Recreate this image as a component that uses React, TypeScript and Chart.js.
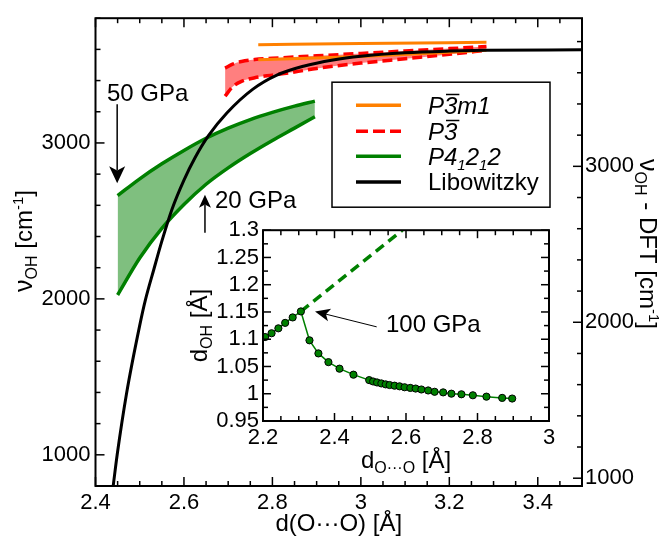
import React, { useEffect, useRef } from 'react';
import { Chart, registerables } from 'chart.js';

Chart.register(...registerables);

const FONT = "'Liberation Sans', Arial, Helvetica, sans-serif";

// ---------------- main panel data ----------------
const blackX = [2.44, 2.449, 2.47, 2.5, 2.513, 2.532, 2.55, 2.573, 2.6, 2.625, 2.655, 2.697, 2.756, 2.81, 2.87, 2.937, 3.0, 3.1, 3.2, 3.28, 3.5];
const blackY = [800, 1000, 1390, 1830, 1995, 2190, 2370, 2575, 2762, 2905, 3045, 3192, 3345, 3435, 3492, 3532, 3556, 3578, 3589, 3594, 3597];

const greenX = [2.45, 2.5, 2.55, 2.6, 2.65, 2.7, 2.75, 2.8, 2.85, 2.896];
const greenUpperY = [2662, 2770, 2866, 2952, 3030, 3095, 3150, 3196, 3236, 3268];
const greenLowerY = [2025, 2262, 2452, 2605, 2735, 2840, 2932, 3016, 3095, 3168];

const redX = [2.693, 2.71, 2.73, 2.76, 2.8, 2.85, 2.9, 3.0, 3.1, 3.2, 3.284];
const redUpperY = [3480, 3505, 3522, 3535, 3543, 3551, 3559, 3574, 3590, 3605, 3618];
const redLowerY = [3300, 3360, 3395, 3418, 3435, 3455, 3478, 3512, 3540, 3568, 3594];

const orangeX = [2.768, 3.0, 3.284];
const orangeUpperY = [3630, 3637, 3645];
const orangeLowerY = [3533, 3555, 3594];

const xMajorTicks = [2.4, 2.6, 2.8, 3.0, 3.2, 3.4];
const xTickLabels = ['2.4', '2.6', '2.8', '3', '3.2', '3.4'];
const yMajorTicks = [1000, 2000, 3000];
const yTickLabels = ['1000', '2000', '3000'];
const y2MajorTicks = [1000, 2000, 3000];
const y2TickLabels = ['1000', '2000', '3000'];
const DFT_SHIFT = 150;

// ---------------- inset data ----------------
const insetX = [2.206, 2.224, 2.243, 2.262, 2.283, 2.306, 2.33, 2.355, 2.383, 2.414, 2.453, 2.497, 2.508, 2.519, 2.531, 2.543, 2.554, 2.568, 2.582, 2.596, 2.612, 2.627, 2.643, 2.662, 2.68, 2.704, 2.727, 2.755, 2.787, 2.825, 2.869, 2.897];
const insetY = [1.104, 1.111, 1.12, 1.13, 1.14, 1.151, 1.098, 1.074, 1.058, 1.046, 1.035, 1.025, 1.0225, 1.0207, 1.0189, 1.0172, 1.016, 1.0148, 1.0136, 1.0119, 1.0107, 1.0095, 1.0078, 1.006, 1.0036, 1.0025, 1.0001, 0.999, 0.9972, 0.9947, 0.9924, 0.9912];
const insetDashX = [2.306, 2.59];
const insetDashY = [1.151, 1.3];

const insetXTicks = [2.2, 2.4, 2.6, 2.8, 3.0];
const insetXLabels = ['2.2', '2.4', '2.6', '2.8', '3'];
const insetYTicks = [0.95, 1.0, 1.05, 1.1, 1.15, 1.2, 1.25, 1.3];
const insetYLabels = ['0.95', '1', '1.05', '1.1', '1.15', '1.2', '1.25', '1.3'];

const zip = (xs: number[], ys: number[]) => xs.map((x, i) => ({ x, y: ys[i] }));

const GREEN = '#008000';
const RED = '#ff0000';
const ORANGE = '#ff8000';

type Seg = { t: string; size: number; dy?: number; italic?: boolean; over?: boolean };

function segFont(s: Seg) {
  return `${s.italic ? 'italic ' : ''}${s.size}px ${FONT}`;
}

function drawRich(ctx: CanvasRenderingContext2D, segs: Seg[], x: number, y: number, align: 'left' | 'center') {
  ctx.save();
  ctx.textAlign = 'left';
  ctx.textBaseline = 'alphabetic';
  ctx.fillStyle = '#000';
  let w = 0;
  for (const s of segs) {
    ctx.font = segFont(s);
    w += ctx.measureText(s.t).width;
  }
  let cx = align === 'center' ? x - w / 2 : x;
  for (const s of segs) {
    ctx.font = segFont(s);
    ctx.fillText(s.t, cx, y + (s.dy || 0));
    const sw = ctx.measureText(s.t).width;
    if (s.over) {
      ctx.strokeStyle = '#000';
      ctx.lineWidth = 1.5;
      ctx.beginPath();
      const oy = y - s.size * 0.8;
      ctx.moveTo(cx + 2, oy);
      ctx.lineTo(cx + sw + 2, oy);
      ctx.stroke();
    }
    cx += sw;
  }
  ctx.restore();
}

function drawArrow(ctx: CanvasRenderingContext2D, x1: number, y1: number, x2: number, y2: number, headLen: number, headW: number, lw: number) {
  const ang = Math.atan2(y2 - y1, x2 - x1);
  const c = Math.cos(ang), s = Math.sin(ang);
  const bx = x2 - headLen * c, by = y2 - headLen * s;
  const nx = x2 - headLen * 0.75 * c, ny = y2 - headLen * 0.75 * s;
  const px = -s, py = c;
  ctx.save();
  ctx.strokeStyle = '#000';
  ctx.fillStyle = '#000';
  ctx.lineWidth = lw;
  ctx.beginPath();
  ctx.moveTo(x1, y1);
  ctx.lineTo(nx, ny);
  ctx.stroke();
  ctx.beginPath();
  ctx.moveTo(x2, y2);
  ctx.lineTo(bx + (px * headW) / 2, by + (py * headW) / 2);
  ctx.lineTo(nx, ny);
  ctx.lineTo(bx - (px * headW) / 2, by - (py * headW) / 2);
  ctx.closePath();
  ctx.fill();
  ctx.restore();
}

function drawTicks(chart: any, scaleId: string, sides: string[], majors: number[], minorStep: number, majorLen: number, minorLen: number) {
  const sc = chart.scales[scaleId];
  const a = chart.chartArea;
  const ctx = chart.ctx as CanvasRenderingContext2D;
  const start = Math.ceil(sc.min / minorStep - 1e-6);
  const end = Math.floor(sc.max / minorStep + 1e-6);
  ctx.save();
  ctx.strokeStyle = '#000';
  ctx.lineWidth = 1.5;
  for (let i = start; i <= end; i++) {
    const v = i * minorStep;
    const major = majors.some((m) => Math.abs(m - v) < minorStep * 1e-3);
    const L = major ? majorLen : minorLen;
    const p = sc.getPixelForValue(v);
    for (const side of sides) {
      ctx.beginPath();
      if (side === 'bottom') { ctx.moveTo(p, a.bottom); ctx.lineTo(p, a.bottom - L); }
      if (side === 'top') { ctx.moveTo(p, a.top); ctx.lineTo(p, a.top + L); }
      if (side === 'left') { ctx.moveTo(a.left, p); ctx.lineTo(a.left + L, p); }
      if (side === 'right') { ctx.moveTo(a.right, p); ctx.lineTo(a.right - L, p); }
      ctx.stroke();
    }
  }
  ctx.restore();
}

function drawFrame(chart: any) {
  const a = chart.chartArea;
  const ctx = chart.ctx as CanvasRenderingContext2D;
  ctx.save();
  ctx.strokeStyle = '#000';
  ctx.lineWidth = 2;
  ctx.strokeRect(a.left, a.top, a.right - a.left, a.bottom - a.top);
  ctx.restore();
}

const tickFont = { family: FONT, size: 22 };

function axisBase(extra: any) {
  return {
    type: 'linear',
    grid: { display: false, drawTicks: false },
    border: { display: false },
    ...extra,
  };
}

const mainDecor = {
  id: 'mainDecor',
  afterDatasetsDraw(chart: any) {
    drawFrame(chart);
    drawTicks(chart, 'x', ['bottom', 'top'], xMajorTicks, 0.05, 9, 5);
    drawTicks(chart, 'y', ['left'], yMajorTicks, 200, 9, 5);
    drawTicks(chart, 'y2', ['right'], y2MajorTicks, 200, 9, 5);
  },
  afterDraw(chart: any) {
    const ctx = chart.ctx as CanvasRenderingContext2D;
    const a = chart.chartArea;
    const xs = chart.scales.x;
    const ys = chart.scales.y;

    // axis titles
    drawRich(ctx, [{ t: 'd(O\u00b7\u00b7\u00b7O) [\u00c5]', size: 24 }], (a.left + a.right) / 2, a.bottom + 45, 'center');

    ctx.save();
    ctx.translate(a.left - 63.5, 241);
    ctx.rotate(-Math.PI / 2);
    drawRich(ctx, [
      { t: '\u03bd', size: 25 },
      { t: 'OH', size: 16, dy: 5 },
      { t: ' [cm', size: 24 },
      { t: '-1', size: 15, dy: -9 },
      { t: ']', size: 24 },
    ], 0, 0, 'center');
    ctx.restore();

    ctx.save();
    ctx.translate(a.right + 58, 244);
    ctx.rotate(Math.PI / 2);
    drawRich(ctx, [
      { t: '\u03bd', size: 25 },
      { t: 'OH', size: 16, dy: 5 },
      { t: ' - DFT [cm', size: 24 },
      { t: '-1', size: 15, dy: -9 },
      { t: ']', size: 24 },
    ], 0, 0, 'center');
    ctx.restore();

    // annotations
    drawRich(ctx, [{ t: '50 GPa', size: 24 }], xs.getPixelForValue(2.426), ys.getPixelForValue(3267), 'left');
    drawArrow(ctx, xs.getPixelForValue(2.449), ys.getPixelForValue(3248), xs.getPixelForValue(2.449), ys.getPixelForValue(2741), 17, 16, 1.5);
    drawRich(ctx, [{ t: '20 GPa', size: 24 }], xs.getPixelForValue(2.67), ys.getPixelForValue(2582), 'left');
    drawArrow(ctx, xs.getPixelForValue(2.6475), ys.getPixelForValue(2424), xs.getPixelForValue(2.6475), ys.getPixelForValue(2667), 13, 12, 1.5);

    // legend
    const lx = a.left + 236.5;
    const ly = a.top + 64;
    const lw = 218;
    const lh = 125;
    ctx.save();
    ctx.fillStyle = '#fff';
    ctx.fillRect(lx, ly, lw, lh);
    ctx.strokeStyle = '#000';
    ctx.lineWidth = 1.5;
    ctx.strokeRect(lx, ly, lw, lh);
    ctx.restore();
    const rows = [
      { color: ORANGE, dash: [] as number[], segs: [{ t: 'P', size: 24, italic: true }, { t: '3', size: 24, italic: true, over: true }, { t: 'm1', size: 24, italic: true }] },
      { color: RED, dash: [12, 5], segs: [{ t: 'P', size: 24, italic: true }, { t: '3', size: 24, italic: true, over: true }] },
      { color: GREEN, dash: [] as number[], segs: [{ t: 'P4', size: 24, italic: true }, { t: '1', size: 15, italic: true, dy: 5 }, { t: '2', size: 24, italic: true }, { t: '1', size: 15, italic: true, dy: 5 }, { t: '2', size: 24, italic: true }] },
      { color: '#000', dash: [] as number[], segs: [{ t: 'Libowitzky', size: 24 }] },
    ];
    const rowY = [23, 49, 74, 99.7];
    rows.forEach((r, i) => {
      const y = ly + rowY[i];
      ctx.save();
      ctx.strokeStyle = r.color;
      ctx.lineWidth = 3.5;
      ctx.setLineDash(r.dash);
      ctx.beginPath();
      ctx.moveTo(lx + 24, y);
      ctx.lineTo(lx + 69, y);
      ctx.stroke();
      ctx.restore();
      drawRich(ctx, r.segs as Seg[], lx + 96, y + 8.5, 'left');
    });
  },
};

const insetDecor = {
  id: 'insetDecor',
  beforeDatasetsDraw(chart: any) {
    const a = chart.chartArea;
    const ctx = chart.ctx as CanvasRenderingContext2D;
    ctx.save();
    ctx.fillStyle = '#fff';
    ctx.fillRect(a.left, a.top, a.right - a.left, a.bottom - a.top);
    ctx.restore();
  },
  afterDatasetsDraw(chart: any) {
    drawFrame(chart);
    drawTicks(chart, 'x', ['bottom', 'top'], insetXTicks, 0.05, 8, 5);
    drawTicks(chart, 'y', ['left', 'right'], insetYTicks, 0.025, 8, 5);
  },
  afterDraw(chart: any) {
    const ctx = chart.ctx as CanvasRenderingContext2D;
    const a = chart.chartArea;
    const xs = chart.scales.x;
    const ys = chart.scales.y;
    drawRich(ctx, [
      { t: 'd', size: 24 },
      { t: 'O\u00b7\u00b7\u00b7O', size: 16, dy: 5 },
      { t: ' [\u00c5]', size: 24 },
    ], (a.left + a.right) / 2, a.bottom + 47, 'center');
    ctx.save();
    ctx.translate(a.left - 56.5, (a.top + a.bottom) / 2);
    ctx.rotate(-Math.PI / 2);
    drawRich(ctx, [
      { t: 'd', size: 24 },
      { t: 'OH', size: 16, dy: 5 },
      { t: ' [\u00c5]', size: 24 },
    ], 0, 0, 'center');
    ctx.restore();
    drawArrow(ctx, xs.getPixelForValue(2.518), ys.getPixelForValue(1.1227), xs.getPixelForValue(2.3455), ys.getPixelForValue(1.151), 15, 13, 1);
    drawRich(ctx, [{ t: '100 GPa', size: 24 }], xs.getPixelForValue(2.544), ys.getPixelForValue(1.1135), 'left');
  },
};

export default function App() {
  const mainRef = useRef<HTMLCanvasElement>(null);
  const insetRef = useRef<HTMLCanvasElement>(null);

  useEffect(() => {
    document.body.style.margin = '0';
    const lineBase = { pointRadius: 0, fill: false, cubicInterpolationMode: 'monotone' };
    const main = new Chart(mainRef.current as HTMLCanvasElement, {
      type: 'line',
      data: {
        datasets: [
          { ...lineBase, label: 'Libowitzky', data: zip(blackX, blackY), borderColor: '#000', borderWidth: 3 },
          { ...lineBase, label: 'P-3m1 a', data: zip(orangeX, orangeUpperY), borderColor: ORANGE, borderWidth: 3 },
          { ...lineBase, label: 'P-3m1 b', data: zip(orangeX, orangeLowerY), borderColor: ORANGE, borderWidth: 3 },
          { ...lineBase, label: 'P-3 a', data: zip(redX, redUpperY), borderColor: RED, borderWidth: 3.5, borderDash: [10, 5], fill: '+1', backgroundColor: 'rgba(255,0,0,0.5)' },
          { ...lineBase, label: 'P-3 b', data: zip(redX, redLowerY), borderColor: RED, borderWidth: 3.5, borderDash: [10, 5] },
          { ...lineBase, label: 'P41212 a', data: zip(greenX, greenUpperY), borderColor: GREEN, borderWidth: 3.5, fill: '+1', backgroundColor: 'rgba(0,128,0,0.5)' },
          { ...lineBase, label: 'P41212 b', data: zip(greenX, greenLowerY), borderColor: GREEN, borderWidth: 3.5 },
        ] as any,
      },
      options: {
        responsive: false,
        animation: false,
        layout: { padding: { top: 13, left: 0, right: 0, bottom: 0 } },
        plugins: { legend: { display: false }, tooltip: { enabled: false } },
        scales: {
          x: axisBase({
            min: 2.4, max: 3.5, position: 'bottom',
            afterBuildTicks: (s: any) => { s.ticks = xMajorTicks.map((v) => ({ value: v })); },
            afterFit: (s: any) => { s.height = 51; },
            ticks: { font: tickFont, color: '#000', padding: 4, maxRotation: 0, autoSkip: false, callback: (_v: any, i: number) => xTickLabels[i] },
          }),
          y: axisBase({
            min: 800, max: 3800, position: 'left',
            afterBuildTicks: (s: any) => { s.ticks = yMajorTicks.map((v) => ({ value: v })); },
            afterFit: (s: any) => { s.width = 95.5; },
            ticks: { font: tickFont, color: '#000', padding: 5, autoSkip: false, callback: (_v: any, i: number) => yTickLabels[i] },
          }),
          y2: axisBase({
            min: 800 + DFT_SHIFT, max: 3800 + DFT_SHIFT, position: 'right',
            afterBuildTicks: (s: any) => { s.ticks = y2MajorTicks.map((v) => ({ value: v })); },
            afterFit: (s: any) => { s.width = 84; },
            ticks: { font: tickFont, color: '#000', padding: 3, autoSkip: false, callback: (_v: any, i: number) => y2TickLabels[i] },
          }),
        },
      } as any,
      plugins: [mainDecor],
    });

    const inset = new Chart(insetRef.current as HTMLCanvasElement, {
      type: 'line',
      data: {
        datasets: [
          { label: 'dOH', data: zip(insetX, insetY), borderColor: GREEN, borderWidth: 1.5, pointRadius: 3.6, pointBackgroundColor: GREEN, pointBorderColor: '#000', pointBorderWidth: 1, fill: false, tension: 0 },
          { label: 'extrapolation', data: zip(insetDashX, insetDashY), borderColor: GREEN, borderWidth: 3.5, borderDash: [10, 6], pointRadius: 0, fill: false },
        ] as any,
      },
      options: {
        responsive: false,
        animation: false,
        layout: { padding: { top: 10, right: 11, left: 0, bottom: 0 } },
        plugins: { legend: { display: false }, tooltip: { enabled: false } },
        scales: {
          x: axisBase({
            min: 2.2, max: 3.0, position: 'bottom',
            afterBuildTicks: (s: any) => { s.ticks = insetXTicks.map((v) => ({ value: v })); },
            afterFit: (s: any) => { s.height = 57; },
            ticks: { font: tickFont, color: '#000', padding: 4, maxRotation: 0, autoSkip: false, callback: (_v: any, i: number) => insetXLabels[i] },
          }),
          y: axisBase({
            min: 0.95, max: 1.3, position: 'left',
            afterBuildTicks: (s: any) => { s.ticks = insetYTicks.map((v) => ({ value: v })); },
            afterFit: (s: any) => { s.width = 88; },
            ticks: { font: tickFont, color: '#000', padding: 4, autoSkip: false, callback: (_v: any, i: number) => insetYLabels[i] },
          }),
        },
      } as any,
      plugins: [insetDecor],
    });

    return () => {
      main.destroy();
      inset.destroy();
    };
  }, []);

  return (
    <div style={{ position: 'relative', width: 666, height: 537, overflow: 'hidden', background: '#fff' }}>
      <canvas ref={mainRef} width={666} height={537} style={{ position: 'absolute', left: 0, top: 0, width: 666, height: 537 }} />
      <canvas ref={insetRef} width={385} height={265} style={{ position: 'absolute', left: 175, top: 213, width: 385, height: 265 }} />
    </div>
  );
}
